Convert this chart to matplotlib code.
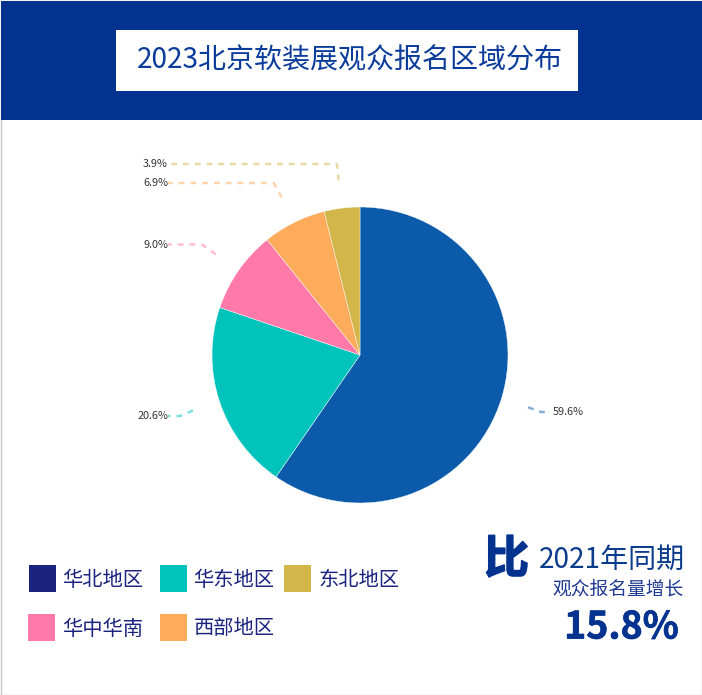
import numpy as np
import matplotlib
matplotlib.use("Agg")
import matplotlib.pyplot as plt
import matplotlib.patheffects as pe
from matplotlib.patches import Rectangle

plt.rcParams['font.family'] = ['Noto Sans CJK SC', 'DejaVu Sans']

title = "2023北京软装展观众报名区域分布"
regions = ["华北地区", "华东地区", "华中华南", "西部地区", "东北地区"]
shares = [59.6, 20.6, 9.0, 6.9, 3.9]
pie_colors = ["#0C5BAB", "#00C4BC", "#FF7AA8", "#FFAB5C", "#D2B64A"]
legend_colors = ["#1A237E", "#00C4BC", "#FF7AA8", "#FFAB5C", "#D2B64A"]
growth_text = "15.8%"

W, H = 702, 695
fig = plt.figure(figsize=(W / 100, H / 100), dpi=100, facecolor="white")
ax = fig.add_axes([0, 0, 1, 1])

def Y(py):
    return H - py

def px(size):
    return size * 0.72

CX, CY, R = 360, 355, 148
ax.pie(shares, colors=pie_colors, startangle=90, counterclock=False,
       center=(CX, Y(CY)), radius=R, frame=True,
       wedgeprops=dict(edgecolor="white", linewidth=0.3))
ax.set_xlim(0, W)
ax.set_ylim(0, H)
ax.set_aspect("auto")
ax.axis("off")

# frame
ax.add_patch(Rectangle((0.5, 0.5), W - 1, H - 1, fc="none", ec="#C8C8C8", lw=1, zorder=1))

# header
ax.add_patch(Rectangle((1, Y(120)), W - 1, 119, fc="#04338F", ec="none", zorder=3))
ax.add_patch(Rectangle((116, Y(91)), 462, 61, fc="white", ec="none", zorder=4))
ax.text(137, Y(60), title, fontsize=px(28.05), color="#0B3C9C", ha="left", va="center", zorder=5)

# leader lines and labels (label y, elbow x in pixels)
label_y = {"华北地区": 412, "华东地区": 416, "华中华南": 244.5, "西部地区": 183, "东北地区": 164}
elbow_x = {"华北地区": 541, "华东地区": 180, "华中华南": 202, "西部地区": 274, "东北地区": 337}
cum = 0.0
for name, v, c in zip(regions, shares, pie_colors):
    mid = np.deg2rad((cum + v / 2) * 3.6)
    cum += v
    x0 = CX + 176 * np.sin(mid)
    y0 = CY - 176 * np.cos(mid)
    ly = label_y[name]
    right = x0 > CX
    x2 = 548 if right else 168
    ax.plot([x0, elbow_x[name], x2], [Y(y0), Y(ly), Y(ly)], color=c, alpha=0.5, lw=1.8,
            ls=(0, (2.35, 2.35)), zorder=2)
    if right:
        ax.text(553, Y(ly), f"{v:.1f}%", fontsize=px(10.8), color="#333333", ha="left", va="center", zorder=5)
    else:
        ax.text(168, Y(ly), f"{v:.1f}%", fontsize=px(10.8), color="#333333", ha="right", va="center", zorder=5)

# legend
slots = {"华北地区": (29, 565), "华东地区": (160, 565), "东北地区": (284, 565),
         "华中华南": (28, 614), "西部地区": (160, 614)}
text_x = {"华北地区": 62.5, "华东地区": 193.5, "东北地区": 318.5, "华中华南": 62.5, "西部地区": 193.5}
for name, c in zip(regions, legend_colors):
    sx, sy = slots[name]
    ax.add_patch(Rectangle((sx, Y(sy + 27)), 27, 27, fc=c, ec="none", zorder=3))
    ax.text(text_x[name], Y(sy + 15), name, fontsize=px(20.3), color="#1A237E", ha="left", va="center", zorder=5)

# callout
ax.text(506.5, Y(560), "比", fontsize=px(45), fontweight="bold", color="#04338F", ha="center", va="center",
        zorder=5, path_effects=[pe.withStroke(linewidth=1.2, foreground="#04338F")])
ax.text(685, Y(560), "2021年同期", fontsize=px(28), color="#0B3C8C", ha="right", va="center", zorder=5)
ax.text(683.5, Y(589.5), "观众报名量增长", fontsize=px(18.8), color="#1F3A93", ha="right", va="center", zorder=5)
ax.text(679, Y(627), growth_text, fontsize=px(37.5), fontweight="bold", color="#04338F", ha="right", va="center",
        zorder=5, path_effects=[pe.withStroke(linewidth=0.5, foreground="#04338F")])

fig.savefig("out.png", dpi=100)
